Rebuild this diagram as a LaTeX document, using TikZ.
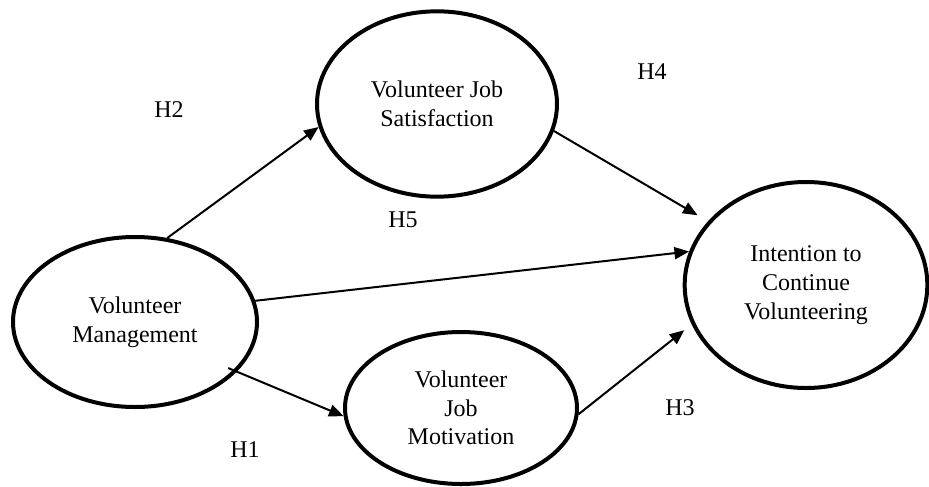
\documentclass[tikz,border=0pt]{standalone}
\usepackage{fontspec}
\setmainfont{Liberation Serif}
\usetikzlibrary{shapes.geometric,arrows.meta}

\begin{document}
\begin{tikzpicture}[x=0.75pt, y=-0.75pt,
  >={Triangle[length=11pt, width=9pt]},
  construct/.style={ellipse, draw, line width=3pt, inner sep=0pt, align=center,
  font=\fontsize{18}{21.5}\selectfont},
  hyp/.style={font=\fontsize{18}{21.5}\selectfont},
  link/.style={->, line width=1.5pt}]
  \useasboundingbox (0,0) rectangle (929,486);
  \node[construct, minimum width=183pt, minimum height=127.5pt] (VM) at (135,322) {Volunteer\\Management};
  \node[construct, minimum width=180pt, minimum height=139pt] (VJS) at (437,104) {Volunteer Job\\Satisfaction};
  \node[construct, minimum width=182pt, minimum height=154.5pt] (ICV) at (806,285) {Intention to\\Continue\\Volunteering};
  \node[construct, minimum width=174pt, minimum height=114pt] (VJM) at (461,408) {Volunteer\\Job\\Motivation};
  \node[hyp] (H2) at (169,110) {H2};
  \node[hyp] (H4) at (652,72) {H4};
  \node[hyp] (H5) at (403,220) {H5};
  \node[hyp] (H1) at (245,450) {H1};
  \node[hyp] (H3) at (680,408) {H3};
  \draw[link] (VM.69) -- (VJS.191);
  \draw[link, shorten >=9pt] (VJS.-13) -- (ICV.147);
  \draw[link] (VM.10) -- (ICV.164);
  \draw[link, shorten <=-7pt] (VM.-26) -- (VJM.184);
  \draw[link, shorten >=7pt] (VJM.-3) -- (ICV.199);
\end{tikzpicture}
\end{document}
